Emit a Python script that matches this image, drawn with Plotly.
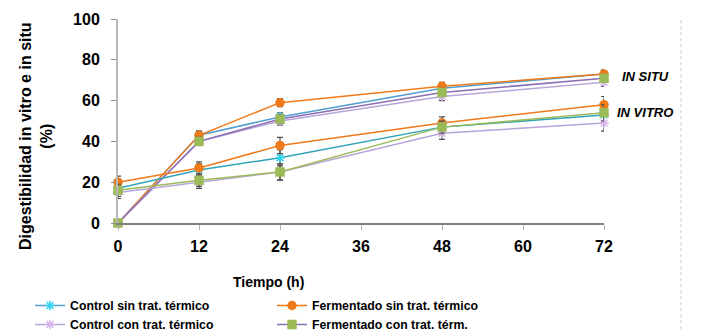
import plotly.graph_objects as go

tiempo = [0, 12, 24, 48, 72]
tick_vals = [0, 12, 24, 36, 48, 60, 72]

names = ["Control sin trat. térmico", "Fermentado sin trat. térmico",
         "Control con trat. térmico", "Fermentado con trat. térm."]

# In situ
situ_control_sin = [0, 43, 52, 66, 73]
situ_ferm_sin = [0, 43, 59, 67, 73]
situ_control_con = [0, 40, 50, 62, 69]
situ_ferm_con = [0, 40, 51, 64, 71]
situ_err = [1, 2, 2, 2, 2]

# In vitro
vitro_control_sin = [17, 26, 32, 47, 53]
vitro_ferm_sin = [20, 27, 38, 49, 58]
vitro_control_con = [15, 20, 25, 44, 49]
vitro_ferm_con = [16, 21, 25, 47, 54]
vitro_err = [3, 3, 4, 3, 4]

styles = [
    dict(line="#4f9fd1", marker="#33d6f0", symbol="asterisk-open", size=8),
    dict(line="#f07a1a", marker="#f07a1a", symbol="circle", size=8),
    dict(line="#b8a6d9", marker="#d7b5e8", symbol="asterisk-open", size=8),
    dict(line="#8a6fb5", marker="#9bbb59", symbol="square", size=8),
]
vitro_lines = ["#2fa3b8", "#f07a1a", "#b8a6d9", "#9bbb59"]

situ = [situ_control_sin, situ_ferm_sin, situ_control_con, situ_ferm_con]
vitro = [vitro_control_sin, vitro_ferm_sin, vitro_control_con, vitro_ferm_con]

fig = go.Figure()
for i, nm in enumerate(names):
    s = styles[i]
    mk = dict(color=s["marker"], symbol=s["symbol"], size=s["size"],
              line=dict(color=s["marker"], width=1.5))
    fig.add_trace(go.Scatter(
        x=tiempo, y=situ[i], name=nm, mode="lines+markers",
        line=dict(color=s["line"], width=1.5), marker=mk, cliponaxis=False,
        error_y=dict(type="data", array=situ_err, color="#505050", thickness=1.2, width=3),
        legendgroup=nm, showlegend=True))
for i, nm in enumerate(names):
    s = styles[i]
    mk = dict(color=s["marker"], symbol=s["symbol"], size=s["size"],
              line=dict(color=s["marker"], width=1.5))
    fig.add_trace(go.Scatter(
        x=tiempo, y=vitro[i], name=nm, mode="lines+markers",
        line=dict(color=vitro_lines[i], width=1.5), marker=mk, cliponaxis=False,
        error_y=dict(type="data", array=vitro_err, color="#505050", thickness=1.2, width=3),
        legendgroup=nm, showlegend=False))

font = dict(family="Liberation Sans, Arial, sans-serif", size=13, color="black")

# page body has an 8px margin: figure coords = window coords - 8
OFF = 8
L, T, W, H = 118 - OFF, 19 - OFF, 486, 204
FW, FH = 701, 332

fig.update_layout(
    width=FW, height=FH,
    margin=dict(l=L, r=FW - L - W, t=T, b=FH - T - H, autoexpand=False),
    paper_bgcolor="white", plot_bgcolor="white",
    font=font,
    showlegend=True,
    legend=dict(orientation="h", xref="container", yref="container",
                x=22 / FW, y=(FH - (291 - OFF)) / FH, xanchor="left", yanchor="top",
                entrywidth=197, entrywidthmode="pixels", tracegroupgap=0,
                font=dict(family="Liberation Sans, Arial, sans-serif", size=12.3, weight="bold"),
                itemwidth=30, bgcolor="rgba(0,0,0,0)"),
    xaxis=dict(range=[0, 72], tickvals=tick_vals, showgrid=False, zeroline=False,
               showline=True, linecolor="#808080", linewidth=2,
               ticks="outside", ticklen=5, tickcolor="#b0b0b0", ticklabelstandoff=3,
               tickfont=dict(size=16, weight="bold")),
    yaxis=dict(range=[0, 100], dtick=20, showgrid=False, zeroline=False,
               showline=True, linecolor="#b8b8b8", linewidth=2,
               ticks="outside", ticklen=5, tickcolor="#909090", ticklabelstandoff=8,
               tickfont=dict(size=16, weight="bold")),
    annotations=[
        dict(text="<b>Tiempo (h)</b>", xref="paper", yref="paper", x=(268 - 118) / W,
             y=-(282 - 223) / H, showarrow=False, font=dict(size=14), xanchor="center", yanchor="middle"),
        dict(text="<b>Digestibilidad in vitro e in situ</b><br><b>(%)</b>", xref="paper", yref="paper",
             x=(36 - 118) / W, y=(223 - 136) / H, textangle=-90, showarrow=False, font=dict(size=16),
             xanchor="center", yanchor="middle"),
        dict(text="<b><i>IN SITU</i></b>", xref="paper", yref="y", x=(620 - 118) / W, y=72,
             xanchor="left", showarrow=False, font=dict(size=13)),
        dict(text="<b><i>IN VITRO</i></b>", xref="paper", yref="y", x=(615 - 118) / W, y=54,
             xanchor="left", showarrow=False, font=dict(size=13)),
    ],
    shapes=[dict(type="line", xref="paper", yref="paper", x0=(681 - 118) / W, x1=(681 - 118) / W,
                 y0=-0.55, y1=1.0, line=dict(color="#c8c8c8", width=1, dash="dot"))],
)

fig.write_html("out.html")
